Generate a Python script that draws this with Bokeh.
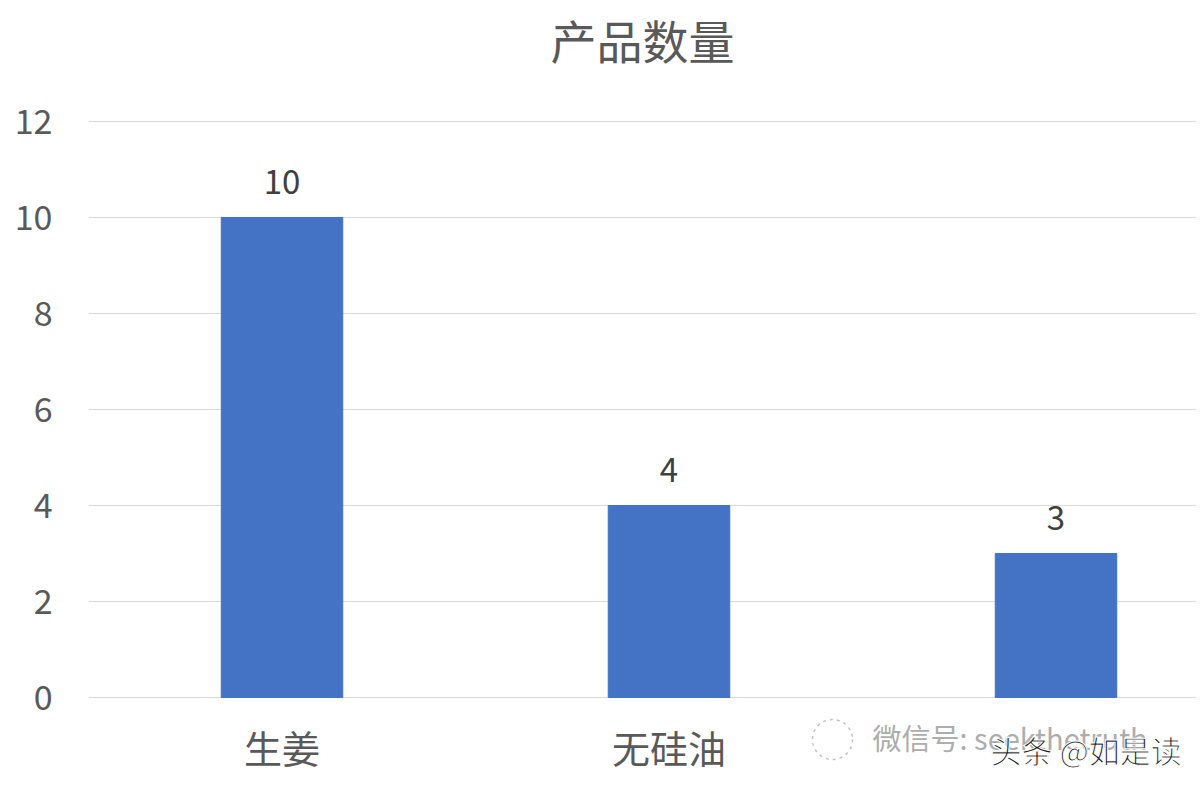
from bokeh.plotting import figure
from bokeh.models import Range1d, FixedTicker
from bokeh.core.properties import value
from bokeh.embed import file_html
from bokeh.resources import INLINE

# ---- data ----
categories = ["生姜", "无硅油", ""]
counts = [10, 4, 3]
y_ticks = [0, 2, 4, 6, 8, 10, 12]
title_text = "产品数量"
watermark_1 = "微信号: seekthetruth"
watermark_2 = "头条 @如是读"

FONT = "Noto Sans CJK SC"
TEXT_COLOR = "#595959"
BAR_COLOR = "#4472C4"

W, H = 1196, 784
LEFT = 88
PX_X = 387.0      # pixels per category
PX_Y = 48.0       # pixels per unit of value
ZERO_Y = 697      # pixel row of value 0


def dx(px):
    return (px - LEFT) / PX_X


def dy(py):
    return (ZERO_Y - py) / PX_Y


xs = [i + 0.5 for i in range(len(categories))]

p = figure(width=W, height=H, output_backend="svg", toolbar_location=None,
           x_range=Range1d(0, dx(W)), y_range=Range1d(dy(H), dy(0)),
           min_border_left=LEFT, min_border_right=0, min_border_top=0,
           min_border_bottom=0)
p.background_fill_color = "white"
p.border_fill_color = "white"
p.outline_line_color = None

p.vbar(x=xs, top=counts, width=0.314, color=BAR_COLOR)

# data labels
p.text(x=xs, y=counts, text=[str(c) for c in counts], text_align="center",
       text_baseline="bottom", y_offset=-24, text_font=value(FONT),
       text_font_size="33px", text_color="#404040")

# category labels (under the value axis, one per bar)
p.text(x=xs, y=[0] * len(xs), text=categories, text_align="center",
       text_baseline="middle", y_offset=49, text_font=value(FONT),
       text_font_size="38px", text_color=TEXT_COLOR)

# axes
p.xaxis.visible = False
p.yaxis.ticker = FixedTicker(ticks=y_ticks)
ax = p.yaxis[0]
ax.axis_line_color = None
ax.major_tick_line_color = None
ax.minor_tick_line_color = None
ax.major_label_text_font = FONT
ax.major_label_text_color = TEXT_COLOR
ax.major_label_text_font_size = "34px"
ax.major_label_standoff = 30

p.xgrid.grid_line_color = None
p.ygrid.ticker = FixedTicker(ticks=y_ticks)
p.ygrid.grid_line_color = "#D9D9D9"
p.ygrid.grid_line_width = 1

# title
p.text(x=[dx(642)], y=[dy(38)], text=[title_text], text_align="center",
       text_baseline="middle", text_font=value(FONT), text_font_size="46px",
       text_color=TEXT_COLOR)

# watermark
p.scatter(x=[dx(832)], y=[dy(739)], size=40,
          fill_color=None, line_color="#c4c4c4", line_width=1.5, line_dash="3 4")
p.text(x=[dx(872)], y=[dy(736)], text=[watermark_1],
       text_align="left", text_baseline="middle", text_font=value(FONT),
       text_font_size="29px", text_color="#adadad")
p.text(x=[dx(990)], y=[dy(749)], text=[watermark_2],
       text_align="left", text_baseline="middle", text_font=value(FONT),
       text_font_size="31px", text_color="#1e1e1e",
       text_outline_color="white")

open("out.html", "w").write(file_html(p, INLINE))
